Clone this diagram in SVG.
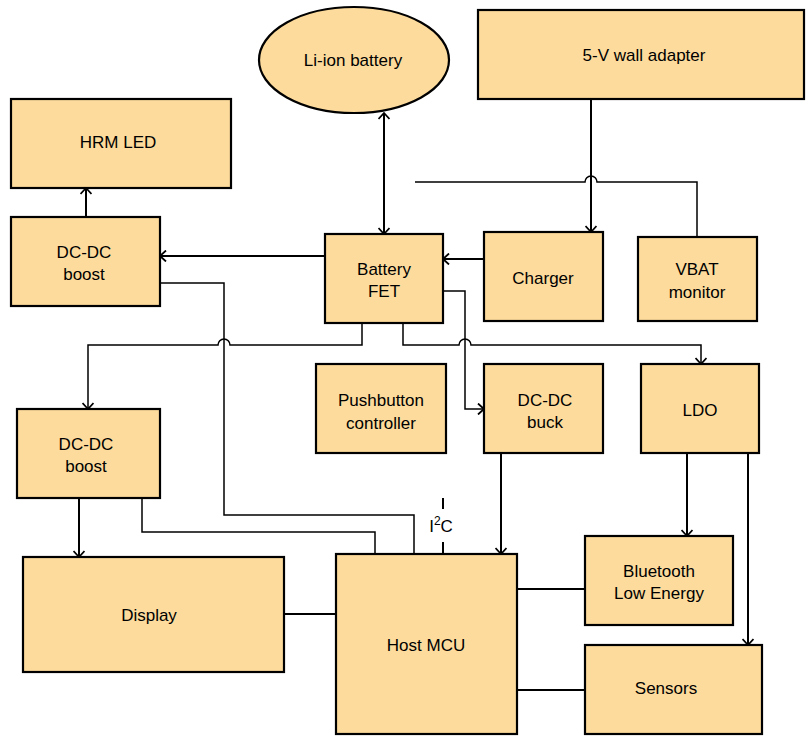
<svg xmlns="http://www.w3.org/2000/svg" width="808" height="736" viewBox="0 0 808 736">
<style>
.box{fill:#FDDB9C;stroke:#000;stroke-width:2.2}
.lbl{font-family:"Liberation Sans",Arial,sans-serif;font-size:17px;fill:#000;text-anchor:middle}
.c{fill:none;stroke:#000;stroke-width:2}
.t{fill:none;stroke:#000;stroke-width:1.5}
</style>
<defs>
<marker id="ah" viewBox="0 0 12 12" refX="10" refY="6" markerWidth="12" markerHeight="12" markerUnits="userSpaceOnUse" orient="auto-start-reverse">
<path d="M4,0.5 L10,6 L4,11.5" fill="none" stroke="#000" stroke-width="1.8"/>
</marker>
</defs>
<g id="connectors">
<path class="c" d="M384,113 V234" marker-start="url(#ah)" marker-end="url(#ah)"/>
<path class="c" d="M591,99 V232" marker-end="url(#ah)"/>
<path class="t" d="M415,182 H585 A6,6 0 0 1 597,182 H697 V237"/>
<path class="c" d="M484,259 H443" marker-end="url(#ah)"/>
<path class="c" d="M325,256 H160" marker-end="url(#ah)"/>
<path class="c" d="M86,217 V188" marker-end="url(#ah)"/>
<path class="t" d="M160,283 H224 V515 H414 V554"/>
<path class="t" d="M362,323 V345 H230 A6,6 0 0 0 218,345 H88 V409" marker-end="url(#ah)"/>
<path class="t" d="M403,323 V345 H459 A6,6 0 0 1 471,345 H701 V364" marker-end="url(#ah)"/>
<path class="t" d="M443,291 H465 V409 H484" marker-end="url(#ah)"/>
<path class="c" d="M501,453 V554" marker-end="url(#ah)"/>
<path class="c" d="M687,453 V536" marker-end="url(#ah)"/>
<path class="c" d="M748,453 V645" marker-end="url(#ah)"/>
<path class="c" d="M79,498 V557" marker-end="url(#ah)"/>
<path class="t" d="M142,498 V532 H375 V554"/>
<path class="c" d="M284,614 H336"/>
<path class="c" d="M517,589 H585"/>
<path class="c" d="M517,690 H585"/>
<path class="c" d="M443,498 V509 M443,542 V554"/>
<text class="lbl" x="441" y="532">I<tspan dy="-7" font-size="12">2</tspan><tspan dy="7">C</tspan></text>
</g>
<g id="battery"><ellipse class="box" cx="354" cy="60" rx="95" ry="53"/><text class="lbl" x="353" y="66">Li-ion battery</text></g>
<g id="adapter"><rect class="box" x="478" y="10" width="326" height="89"/><text class="lbl" x="644" y="61">5-V wall adapter</text></g>
<g id="hrm"><rect class="box" x="11" y="99" width="220" height="89"/><text class="lbl" x="118" y="148">HRM LED</text></g>
<g id="boost1"><rect class="box" x="11" y="217" width="149" height="89"/><text class="lbl" x="84" y="258">DC-DC</text><text class="lbl" x="84" y="280">boost</text></g>
<g id="fet"><rect class="box" x="325" y="234" width="118" height="89"/><text class="lbl" x="384" y="275">Battery</text><text class="lbl" x="384" y="297">FET</text></g>
<g id="charger"><rect class="box" x="484" y="232" width="119" height="89"/><text class="lbl" x="543" y="284">Charger</text></g>
<g id="vbat"><rect class="box" x="638" y="237" width="119" height="84"/><text class="lbl" x="697" y="275">VBAT</text><text class="lbl" x="697" y="298">monitor</text></g>
<g id="pushbutton"><rect class="box" x="316" y="364" width="130" height="89"/><text class="lbl" x="381" y="406">Pushbutton</text><text class="lbl" x="381" y="429">controller</text></g>
<g id="buck"><rect class="box" x="484" y="364" width="119" height="89"/><text class="lbl" x="545" y="406">DC-DC</text><text class="lbl" x="545" y="428">buck</text></g>
<g id="ldo"><rect class="box" x="641" y="364" width="118" height="89"/><text class="lbl" x="700" y="416">LDO</text></g>
<g id="boost2"><rect class="box" x="17" y="409" width="143" height="89"/><text class="lbl" x="86" y="450">DC-DC</text><text class="lbl" x="86" y="472">boost</text></g>
<g id="display"><rect class="box" x="23" y="557" width="261" height="115"/><text class="lbl" x="149" y="621">Display</text></g>
<g id="mcu"><rect class="box" x="336" y="554" width="181" height="180"/><text class="lbl" x="426" y="651">Host MCU</text></g>
<g id="ble"><rect class="box" x="585" y="536" width="148" height="89"/><text class="lbl" x="659" y="577">Bluetooth</text><text class="lbl" x="659" y="599">Low Energy</text></g>
<g id="sensors"><rect class="box" x="585" y="645" width="177" height="89"/><text class="lbl" x="666" y="694">Sensors</text></g>
</svg>
